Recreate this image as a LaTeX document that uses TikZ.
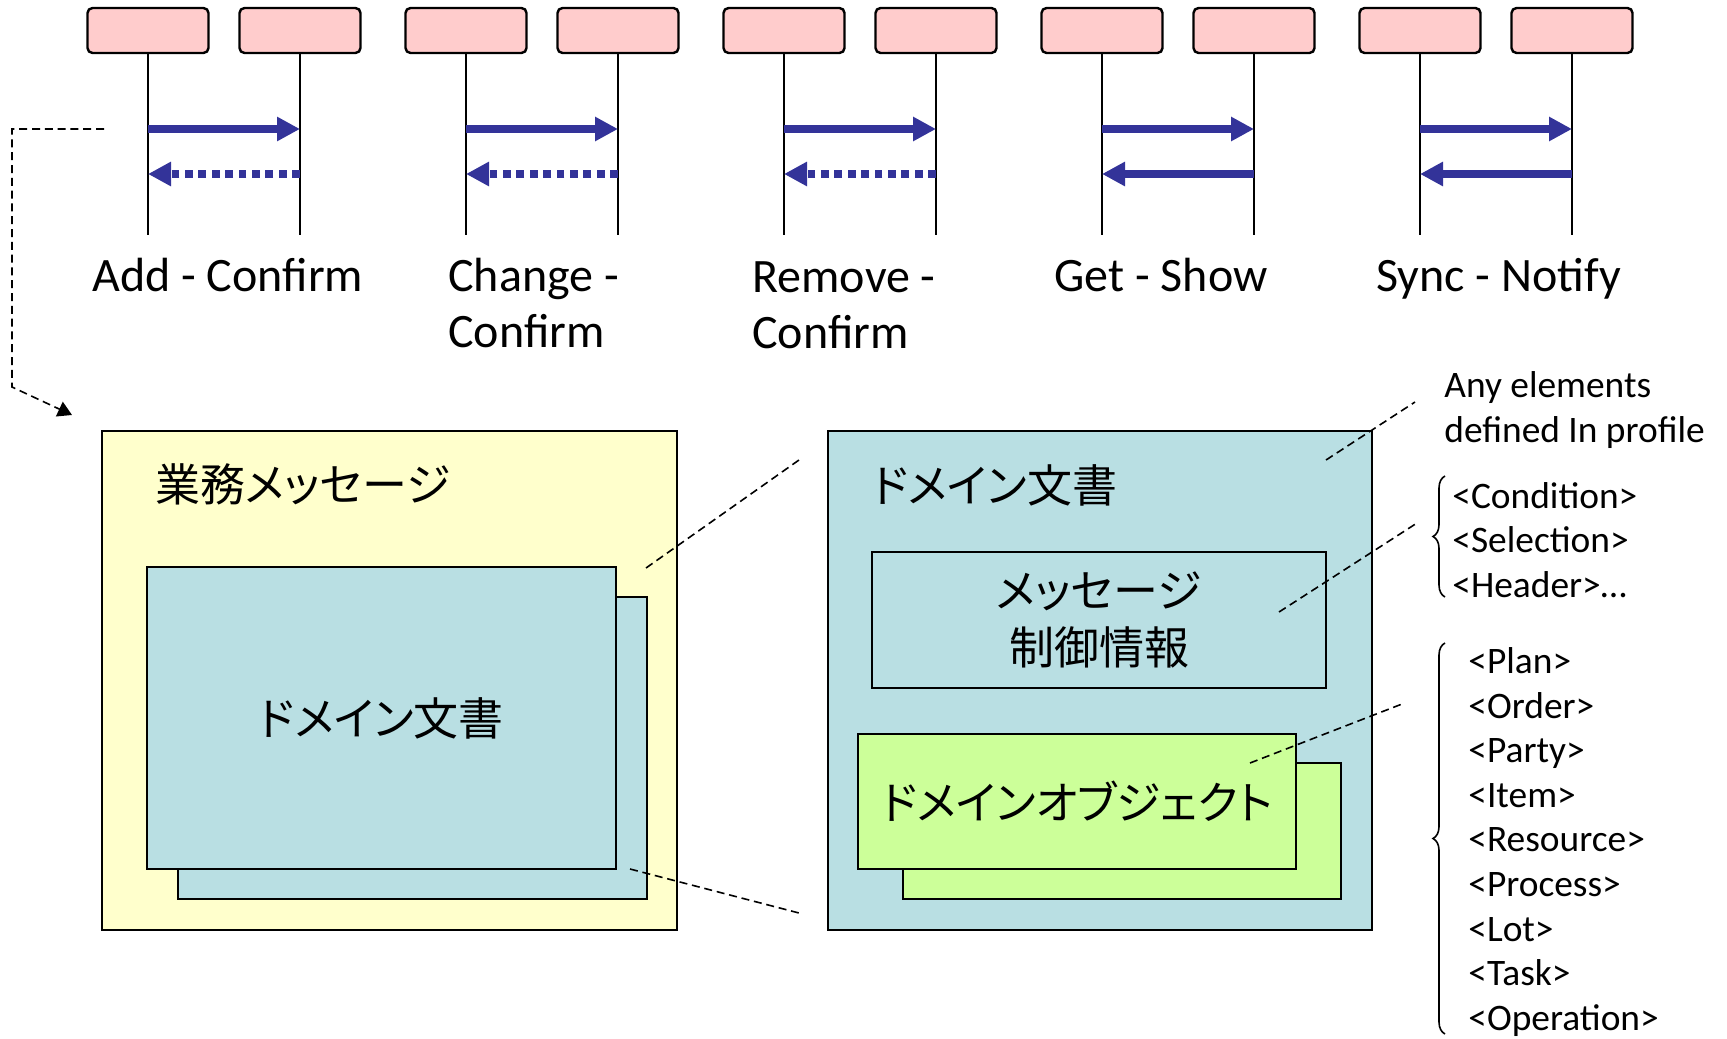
\documentclass[tikz,border=0pt]{standalone}
\usepackage{fontspec}
\setmainfont{Carlito}
\newfontfamily\jpfont[RawFeature=+palt]{Noto Sans CJK JP}
\usetikzlibrary{arrows.meta,decorations.pathreplacing}
\definecolor{pinkbox}{HTML}{FFCCCC}
\definecolor{msgblue}{HTML}{333399}
\definecolor{bizyellow}{HTML}{FFFFCC}
\definecolor{docblue}{HTML}{B9DFE3}
\definecolor{objgreen}{HTML}{CCFF99}

\begin{document}
\begin{tikzpicture}[x=0.5pt,y=-0.5pt,
  actor/.style={draw=black,line width=1.2pt,fill=pinkbox,rounded corners=2.5pt,
    minimum width=60.5pt,minimum height=22.5pt,inner sep=0pt},
  life/.style={line width=1pt},
  req/.style={draw=msgblue,line width=4pt,-{Triangle[length=11.5pt,width=11.5pt,fill=msgblue]}},
  resline/.style={req},
  resdot/.style={req,dash pattern=on 3.9pt off 2.8pt},
  toplabel/.style={font=\fontsize{24pt}{28pt}\selectfont,align=left,inner sep=0pt},
  box/.style={draw=black,line width=1pt,inner sep=0pt,align=center,
    font=\jpfont\fontsize{22.5pt}{28.5pt}\selectfont},
  jplabel/.style={inner sep=0pt,font=\jpfont\fontsize{22.5pt}{28.5pt}\selectfont},
  link/.style={line width=0.8pt,dash pattern=on 4pt off 2.4pt},
  list/.style={inner sep=0pt,align=left,font=\fontsize{18.7pt}{22.3pt}\selectfont},
  curly/.style={line width=0.8pt,decorate,decoration={brace,amplitude=6pt}}
]
\useasboundingbox (0,0) rectangle (1727,1038);
% message exchange patterns
\foreach \i/\ret in {1/resdot,2/resdot,3/resdot,4/resline,5/resline}
{
        \pgfmathsetmacro{\xa}{148 + 318 * (\i - 1)};
        \pgfmathsetmacro{\xb}{\xa + 152};
        \node[actor] (a\i) at (\xa,30.5) {};
        \node[actor] (b\i) at (\xb,30.5) {};
        \coordinate (ea\i) at (\xa,235);
        \coordinate (eb\i) at (\xb,235);
        \draw[life] (a\i) -- (ea\i);
        \draw[life] (b\i) -- (eb\i);
        \coordinate (qa\i) at (\xa,129);
        \coordinate (qb\i) at (\xb,129);
        \coordinate (ra\i) at (\xa,174);
        \coordinate (rb\i) at (\xb,174);
        \draw[req] (qa\i) -- (qb\i);
        \draw[\ret] (rb\i) -- (ra\i);
}
\node[toplabel,anchor=north west] (add) at (92,258) {Add - Confirm};
\node[toplabel,anchor=north west] (change) at (448,258) {Change -\\Confirm};
\node[toplabel,anchor=north west] (remove) at (752,261) {Remove -\\Confirm};
\node[toplabel,anchor=north west] (get) at (1054,258) {Get - Show};
\node[toplabel,anchor=north west] (sync) at (1376,258) {Sync - Notify};
% business message
\node[box,fill=bizyellow,minimum width=287.5pt,minimum height=249.5pt] (biz) at (389.5,680.5) {};
\node[jplabel,anchor=west] (bizlbl) at (155,484) {業務メッセージ};
\node[box,fill=docblue,minimum width=234.5pt,minimum height=151pt] (docback) at (412.5,748) {};
\node[box,fill=docblue,minimum width=234.5pt,minimum height=151pt] (docfront) at (381.5,718) {ドメイン文書};
% domain document
\node[box,fill=docblue,minimum width=272pt,minimum height=249.5pt] (doc) at (1099.5,680.5) {};
\node[jplabel,anchor=west] (doclbl) at (872,485) {ドメイン文書};
\node[box,fill=docblue,minimum width=227pt,minimum height=68pt] (ctrl) at (1099,620) {メッセージ\\制御情報};
\node[box,fill=objgreen,minimum width=219pt,minimum height=68pt] (objback) at (1122,831) {};
\node[box,fill=objgreen,minimum width=219pt,minimum height=67.5pt] (objfront) at (1077,801.5) {ドメインオブジェクト};
% element lists
\node[list,anchor=west] (anyel) at (1444,410) {Any elements\\defined In profile};
\node[list,anchor=west] (ctrllist) at (1452,540) {<Condition>\\<Selection>\\<Header>…};
\node[list,anchor=west] (objlist) at (1468,842) {<Plan>\\<Order>\\<Party>\\<Item>\\<Resource>\\<Process>\\<Lot>\\<Task>\\<Operation>};
\coordinate (cb1) at (1445,597);
\coordinate (ct1) at (1445,476);
\coordinate (cb2) at (1445,1034);
\coordinate (ct2) at (1445,643);
\draw[curly] (cb1) -- (ct1);
\draw[curly] (cb2) -- (ct2);
% dashed links
\coordinate (lk0) at (104,129);
\coordinate (lk1) at (72,415);
\draw[link,-{Triangle[length=7pt,width=8pt]}] (lk0) -- ++(-92,0) -- ++(0,258) -- (lk1);
\coordinate (z1) at (646,568);
\coordinate (z2) at (799,460);
\coordinate (z3) at (630,869);
\coordinate (z4) at (799,913);
\draw[link] (z1) -- (z2);
\draw[link] (z3) -- (z4);
\coordinate (p1) at (1326,460);
\coordinate (p2) at (1415,402);
\coordinate (p3) at (1279,612);
\coordinate (p4) at (1417,523);
\coordinate (p5) at (1250,763);
\coordinate (p6) at (1402,704);
\draw[link] (p1) -- (p2);
\draw[link] (p3) -- (p4);
\draw[link] (p5) -- (p6);
\end{tikzpicture}
\end{document}
